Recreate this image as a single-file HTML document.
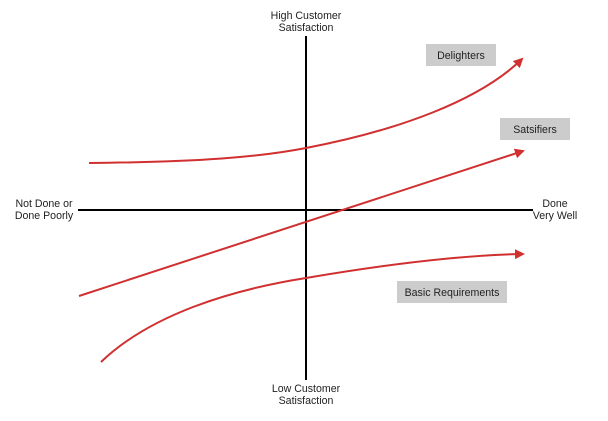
<!DOCTYPE html>
<html><head><style>
body{margin:0;background:#fff;}
svg{display:block;font-family:"Liberation Sans",Arial,sans-serif;}
</style></head><body>
<svg width="608" height="421" viewBox="0 0 608 421" xmlns="http://www.w3.org/2000/svg">
<defs>
<marker id="a" markerWidth="10" markerHeight="10" refX="8" refY="5" orient="auto" markerUnits="userSpaceOnUse">
<path d="M0,0 L10,5 L0,10 Z" fill="#d03030"/>
</marker>
</defs>
<line x1="78" y1="210" x2="533" y2="210" stroke="#000" stroke-width="2"/>
<line x1="306" y1="36" x2="306" y2="380" stroke="#000" stroke-width="2"/>
<g fill="#222" font-size="10.6" text-anchor="middle">
<text x="306" y="19">High Customer</text><text x="306" y="31">Satisfaction</text>
<text x="306" y="392">Low Customer</text><text x="306" y="404">Satisfaction</text>
<text x="44" y="207">Not Done or</text><text x="44" y="219">Done Poorly</text>
<text x="555" y="207">Done</text><text x="555" y="219">Very Well</text>
</g>
<g fill="none" stroke="#d03030" stroke-width="2">
<path d="M89,163 C200,162 260,157 306,148 C400,130 480,100 522,59" marker-end="url(#a)"/>
<path d="M79,296 L523,151" marker-end="url(#a)"/>
<path d="M101,362 C150,315 230,290 306,278 C400,262 470,255 523,254" marker-end="url(#a)"/>
</g>
<rect x="426" y="44" width="70" height="22" fill="#cccccc"/>
<rect x="500" y="118" width="70" height="22" fill="#cccccc"/>
<rect x="397" y="281" width="110" height="22" fill="#cccccc"/>
<g fill="#222" font-size="10.6" text-anchor="middle">
<text x="461" y="59">Delighters</text>
<text x="535" y="133">Satsifiers</text>
<text x="452" y="296">Basic Requirements</text>
</g>
</svg>
</body></html>
